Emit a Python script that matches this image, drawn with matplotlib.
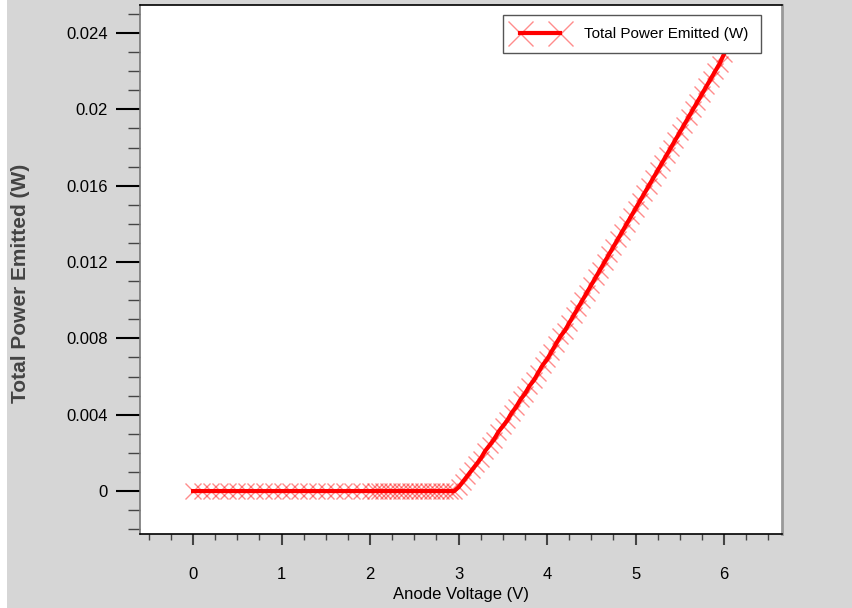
import matplotlib
matplotlib.use("Agg")
import matplotlib.pyplot as plt
from matplotlib.ticker import MultipleLocator, FuncFormatter
from matplotlib.patches import Rectangle

# flat part, 0.1 V steps
volt_low = [0.0, 0.1, 0.2, 0.3, 0.4, 0.5, 0.6, 0.7, 0.8, 0.9,
            1.0, 1.1, 1.2, 1.3, 1.4, 1.5, 1.6, 1.7, 1.8, 1.9]
power_low = [0.0] * 20

# finer 0.05 V steps from 2 V onwards
volt_high = [2.0, 2.05, 2.1, 2.15, 2.2, 2.25, 2.3, 2.35, 2.4, 2.45,
             2.5, 2.55, 2.6, 2.65, 2.7, 2.75, 2.8, 2.85, 2.9, 2.95,
             3.0, 3.05, 3.1, 3.15, 3.2, 3.25, 3.3, 3.35, 3.4, 3.45,
             3.5, 3.55, 3.6, 3.65, 3.7, 3.75, 3.8, 3.85, 3.9, 3.95,
             4.0, 4.05, 4.1, 4.15, 4.2, 4.25, 4.3, 4.35, 4.4, 4.45,
             4.5, 4.55, 4.6, 4.65, 4.7, 4.75, 4.8, 4.85, 4.9, 4.95,
             5.0, 5.05, 5.1, 5.15, 5.2, 5.25, 5.3, 5.35, 5.4, 5.45,
             5.5, 5.55, 5.6, 5.65, 5.7, 5.75, 5.8, 5.85, 5.9, 5.95, 6.0]
power_high = [0.0, 0.0, 0.0, 0.0, 0.0, 0.0, 0.0, 0.0, 0.0, 0.0,
              0.0, 0.0, 0.0, 0.0, 0.0, 0.0, 0.0, 0.0, 0.0, 0.0,
              0.0002, 0.0005, 0.0008, 0.0011, 0.0014, 0.0017, 0.0021, 0.0024, 0.0027, 0.0031,
              0.0034, 0.0037, 0.0041, 0.0044, 0.0048, 0.0051, 0.0055, 0.0058, 0.0062, 0.0066,
              0.0069, 0.0073, 0.0077, 0.0081, 0.0084, 0.0088, 0.0092, 0.0096, 0.0100, 0.0104,
              0.0108, 0.0112, 0.0116, 0.0120, 0.0124, 0.0128, 0.0132, 0.0136, 0.0140, 0.0144,
              0.0148, 0.0152, 0.0156, 0.0160, 0.0164, 0.0168, 0.0172, 0.0176, 0.0180, 0.0184,
              0.0188, 0.0192, 0.0196, 0.0200, 0.0204, 0.0208, 0.0212, 0.0216, 0.0220, 0.0224,
              0.0229]

volts = volt_low + volt_high
power = power_low + power_high

FONT = ["Liberation Sans", "DejaVu Sans"]
GRAY_BG = "#d6d6d6"

fig = plt.figure(figsize=(8.53, 6.08), dpi=100, facecolor=GRAY_BG)
fig.patches.append(Rectangle((0, 0), 7 / 853, 1, transform=fig.transFigure,
                             facecolor="white", edgecolor="none", zorder=-1))
ax = fig.add_axes([140 / 853, 1 - 534 / 608, 642 / 853, 529 / 608])
ax.set_facecolor("white")

ax.plot(volts, power, color="red", linewidth=3, marker="x", markersize=12,
        markeredgewidth=1, markeredgecolor=(1, 0, 0, 0.45),
        label="Total Power Emitted (W)")

ax.set_xlim(-0.6, 6.655)
ax.set_ylim(-0.00225, 0.02547)

ax.xaxis.set_major_locator(MultipleLocator(1))
ax.xaxis.set_minor_locator(MultipleLocator(0.25))
ax.yaxis.set_major_locator(MultipleLocator(0.004))
ax.yaxis.set_minor_locator(MultipleLocator(0.001))
ax.yaxis.set_major_formatter(FuncFormatter(lambda v, p: "{:g}".format(round(v, 6))))
ax.xaxis.set_major_formatter(FuncFormatter(lambda v, p: "{:g}".format(round(v, 6))))

ax.tick_params(axis="y", which="major", direction="out", length=17, width=1.5,
               color="black", pad=6)
ax.tick_params(axis="y", which="minor", direction="out", length=9, width=1,
               color="#444444")
ax.tick_params(axis="x", which="major", direction="out", length=8, width=1.5,
               color="#444444", pad=16)
ax.tick_params(axis="x", which="minor", direction="out", length=4, width=1,
               color="#444444")
for lbl in ax.get_xticklabels() + ax.get_yticklabels():
    lbl.set_family(FONT)
    lbl.set_fontsize(12)

ax.spines["top"].set_color("black")
ax.spines["bottom"].set_color("black")
ax.spines["left"].set_color("#777777")
ax.spines["right"].set_color("#999999")
for s in ax.spines.values():
    s.set_linewidth(1.2)
ax.spines["right"].set_linewidth(2)

ax.set_xlabel("Anode Voltage (V)", family=FONT, fontsize=12)
ax.set_ylabel("Total Power Emitted (W)", family=FONT, fontsize=15,
              fontweight="bold", color="#444444")
ax.xaxis.set_label_coords(0.5, -0.100)
ax.yaxis.set_label_coords(-0.172, 0.474)

leg = ax.legend(loc="upper right", bbox_to_anchor=(0.967, 0.981), fancybox=False,
                edgecolor="#555555", framealpha=1, handlelength=3.2, numpoints=2,
                borderpad=0.8, handletextpad=1.3, borderaxespad=0,
                markerscale=1.5, prop={"family": FONT, "size": 11})
leg.get_frame().set_linewidth(1)

fig.savefig("out.png", dpi=100, facecolor=fig.get_facecolor())
